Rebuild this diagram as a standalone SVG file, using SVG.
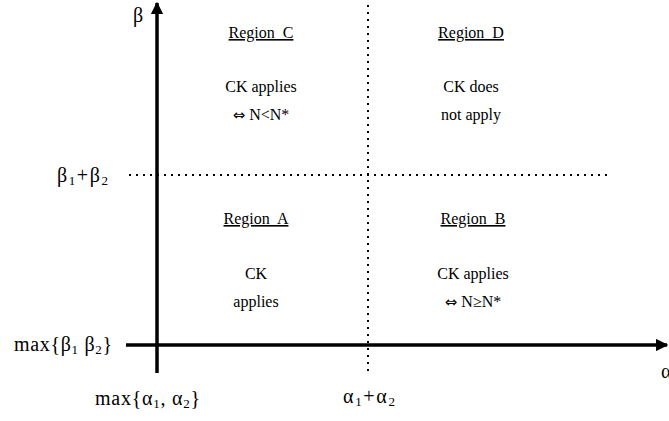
<svg xmlns="http://www.w3.org/2000/svg" width="669" height="421" viewBox="0 0 669 421">
<style>
  text { font-family: "Liberation Serif", "Times New Roman", serif; font-size: 16px; fill: #000; }
  .c { text-anchor: middle; }
  .u { text-decoration: underline; }
  .m { font-size: 20px; }
  .sub { font-size: 13px; }
  .sym { font-family: "DejaVu Sans", sans-serif; font-size: 15px; }
  .axis { stroke: #000; stroke-width: 3.5; fill: none; }
  .dot { stroke: #000; stroke-width: 2; stroke-dasharray: 2 5; fill: none; }
</style>
<defs>
  <marker id="ah" viewBox="0 0 10 10" refX="9" refY="5" markerWidth="3.6" markerHeight="3.6" orient="auto" markerUnits="strokeWidth">
    <path d="M0,0 L10,5 L0,10 Z" fill="#000"/>
  </marker>
</defs>
<rect width="669" height="421" fill="#fff"/>
<g id="connectors">
  <line class="dot" x1="129" y1="175" x2="612" y2="175"/>
  <line class="dot" x1="368" y1="5" x2="368" y2="376"/>
  <line class="axis" x1="126" y1="345" x2="667" y2="345" marker-end="url(#ah)"/>
  <line class="axis" x1="157" y1="373" x2="157" y2="3" marker-end="url(#ah)"/>
</g>
<g id="axis-labels">
  <text class="m" x="133" y="22">β</text>
  <text class="m" x="57" y="182" textLength="51" lengthAdjust="spacing">β<tspan class="sub" dy="3">1</tspan><tspan dy="-3">+β</tspan><tspan class="sub" dy="3">2</tspan></text>
  <text class="m" x="14" y="351" textLength="98" lengthAdjust="spacing">max{β<tspan class="sub" dy="3">1</tspan><tspan dy="-3"> β</tspan><tspan class="sub" dy="3">2</tspan><tspan dy="-3">}</tspan></text>
  <text class="m" x="95" y="405" textLength="105" lengthAdjust="spacing">max{α<tspan class="sub" dy="3">1</tspan><tspan dy="-3">, α</tspan><tspan class="sub" dy="3">2</tspan><tspan dy="-3">}</tspan></text>
  <text class="m" x="343" y="403" textLength="52" lengthAdjust="spacing">α<tspan class="sub" dy="3">1</tspan><tspan dy="-3">+α</tspan><tspan class="sub" dy="3">2</tspan></text>
  <text class="m" x="661" y="378">α</text>
</g>
<g id="region-c">
  <text class="c u" x="261" y="38" xml:space="preserve">Region  C</text>
  <text class="c" x="261" y="92">CK applies</text>
  <text class="c" x="261" y="120"><tspan class="sym">⇔</tspan> N&lt;N*</text>
</g>
<g id="region-d">
  <text class="c u" x="471" y="38" xml:space="preserve">Region  D</text>
  <text class="c" x="471" y="92">CK does</text>
  <text class="c" x="471" y="120">not apply</text>
</g>
<g id="region-a">
  <text class="c u" x="256" y="224" xml:space="preserve">Region  A</text>
  <text class="c" x="256" y="279">CK</text>
  <text class="c" x="256" y="307">applies</text>
</g>
<g id="region-b">
  <text class="c u" x="473" y="224" xml:space="preserve">Region  B</text>
  <text class="c" x="473" y="279">CK applies</text>
  <text class="c" x="473" y="307"><tspan class="sym">⇔</tspan> N≥N*</text>
</g>
</svg>
